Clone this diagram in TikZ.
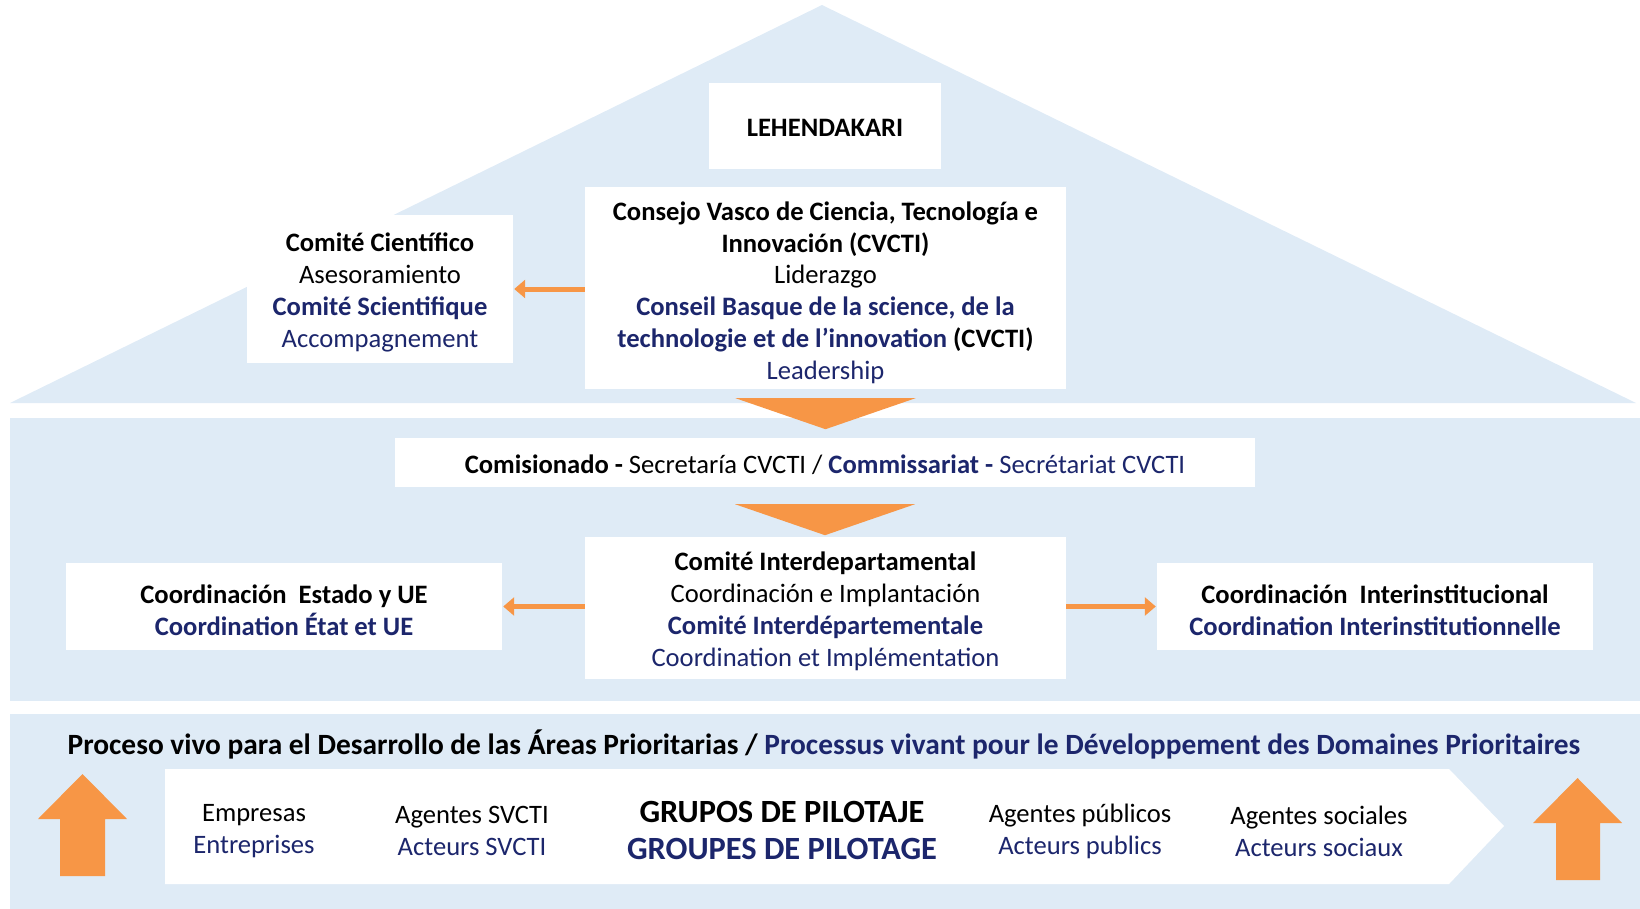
\documentclass[tikz,border=0pt]{standalone}
\usepackage{fontspec}
\setmainfont{Carlito}
\usetikzlibrary{positioning,arrows.meta,calc}

\definecolor{bandblue}{RGB}{223,235,246}
\definecolor{navy}{RGB}{28,38,108}
\definecolor{orangearr}{RGB}{247,150,70}

\newcommand{\fr}[1]{\textcolor{navy}{#1}}
\newcommand{\lowerstrut}[1][28pt]{\rule{0pt}{#1}}

\begin{document}
\begin{tikzpicture}[x=1pt,y=-1pt,
    box/.style={fill=white, align=center, inner sep=0pt, font=\fontsize{26.6}{31.8}\selectfont},
    actor/.style={align=center, inner sep=0pt, font=\fontsize{26.6}{32.5}\selectfont},
    link/.style={-{Triangle[length=11pt,width=18pt]}, orangearr, line width=5pt, shorten >=1pt},
    chevron/.style={fill=orangearr},
    uparrow/.style={fill=orangearr}]
    \useasboundingbox (0,0) rectangle (1640,909);

    % Background: roof and bands
    \fill[bandblue] (822,5) -- (1636,403) -- (10,403) -- cycle;
    \fill[bandblue] (10,418) rectangle (1640,701);
    \fill[bandblue] (10,714) rectangle (1640,909);

    % Define nodes
    \node[box, minimum width=232, minimum height=86] (lehendakari) at (825,126) {\lowerstrut[22pt]\textbf{LEHENDAKARI}};
    \node[box, minimum width=481, minimum height=202] (cvcti) at (825.5,288)
        {\lowerstrut\textbf{Consejo Vasco de Ciencia, Tecnología e}\\
         \textbf{Innovación (CVCTI)}\\
         Liderazgo\\
         \fr{\textbf{Conseil Basque de la science, de la}}\\
         \fr{\textbf{technologie et de l'innovation}} \textbf{(CVCTI)}\\
         \fr{Leadership}};
    \node[box, minimum width=266, minimum height=148] (cientifico) at (380,289)
        {\lowerstrut[25.5pt]\textbf{Comité Científico}\\
         Asesoramiento\\
         \fr{\textbf{Comité Scientifique}}\\
         \fr{Accompagnement}};

    \node[box, minimum width=860, minimum height=49] (comisionado) at (825,462.5)
        {\lowerstrut[23pt]\textbf{Comisionado -} Secretaría CVCTI / \fr{\textbf{Commissariat -} Secrétariat CVCTI}};
    \node[box, minimum width=481, minimum height=142] (interdep) at (825.5,608)
        {\lowerstrut[25.5pt]\textbf{Comité Interdepartamental}\\
         Coordinación e Implantación\\
         \fr{\textbf{Comité Interdépartementale}}\\
         \fr{Coordination et Implémentation}};
    \node[box, minimum width=436, minimum height=87] (estado) at (284,606.5)
        {\lowerstrut[25.5pt]\textbf{Coordinación\ \ Estado y UE}\\
         \fr{\textbf{Coordination État et UE}}};
    \node[box, minimum width=436, minimum height=87] (interinst) at (1375,606.5)
        {\lowerstrut[25.5pt]\textbf{Coordinación\ \ Interinstitucional}\\
         \fr{\textbf{Coordination Interinstitutionnelle}}};

    \draw[link] (cvcti.west |- cientifico) -- (cientifico.east);
    \draw[link] (interdep.west |- estado) -- (estado.east);
    \draw[link] (interdep.east |- interinst) -- (interinst.west);

    % chevrons between levels
    \fill[chevron] ($(cvcti.south)+(-90,9)$) -- ($(cvcti.south)+(90,9)$) -- ($(cvcti.south)+(0,40)$) -- cycle;
    \fill[chevron] ($(comisionado.south)+(-90,17)$) -- ($(comisionado.south)+(90,17)$) -- ($(comisionado.south)+(0,48)$) -- cycle;

    % bottom band
    \node[actor, font=\fontsize{29.4}{32}\selectfont\bfseries] (proceso) at (824,744)
        {Proceso vivo para el Desarrollo de las Áreas Prioritarias / \fr{Processus vivant pour le Développement des Domaines Prioritaires}};
    \fill[white] (165,769) -- (1449,769) -- (1504,826) -- (1449,884) -- (165,884) -- cycle;
    \node[actor] (empresas) at (254,831) {Empresas\\ \fr{Entreprises}};
    \node[actor] (agentes) at (472,831) {Agentes SVCTI\\ \fr{Acteurs SVCTI}};
    \node[actor, font=\fontsize{32.4}{37}\selectfont\bfseries] (grupos) at (782,830) {GRUPOS DE PILOTAJE\\ \fr{GROUPES DE PILOTAGE}};
    \node[actor] (publicos) at (1080,831.5) {Agentes públicos\\ \fr{Acteurs publics}};
    \node[actor] (sociales) at (1319,831.5) {Agentes sociales\\ \fr{Acteurs sociaux}};

    \fill[uparrow] (60,876) -- (60,819) -- (38,819) -- (82.5,774) -- (127,819) -- (105,819) -- (105,876) -- cycle;
    \fill[uparrow] (1556,880) -- (1556,823) -- (1533,823) -- (1577.5,778) -- (1622,823) -- (1600,823) -- (1600,880) -- cycle;

\end{tikzpicture}
\end{document}
